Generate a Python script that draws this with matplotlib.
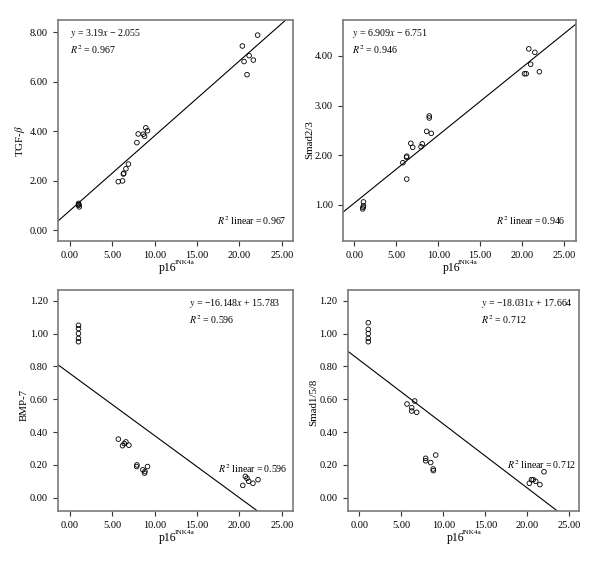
import matplotlib
matplotlib.use("Agg")
import matplotlib.pyplot as plt
import numpy as np

plt.rcParams['font.family'] = ['Liberation Serif', 'DejaVu Serif']
plt.rcParams['mathtext.fontset'] = 'stix'

# ---------------- data ----------------
tgf_x = [1.0, 1.05, 1.0, 1.1, 5.7, 6.2, 6.3, 6.35, 6.6, 6.9,
         7.9, 8.05, 8.65, 8.8, 8.95, 9.15, 20.35, 20.55, 20.9, 21.15, 21.65, 22.15]
tgf_y = [1.08, 1.04, 1.0, 0.94, 1.96, 1.99, 2.27, 2.30, 2.48, 2.67,
         3.54, 3.89, 3.88, 3.80, 4.14, 4.02, 7.45, 6.82, 6.29, 7.06, 6.88, 7.89]

smad23_x = [1.1, 1.1, 1.05, 1.0, 5.79, 6.22, 6.25, 6.25, 6.73, 6.96,
            7.95, 8.1, 8.62, 8.93, 8.93, 9.17, 20.27, 20.47, 20.78, 21.0, 21.5, 22.04]
smad23_y = [1.06, 0.98, 0.95, 0.92, 1.85, 1.96, 1.98, 1.52, 2.24, 2.16,
            2.17, 2.23, 2.48, 2.79, 2.75, 2.44, 3.64, 3.64, 4.14, 3.83, 4.07, 3.68]

bmp7_x = [1.0, 1.0, 1.0, 1.0, 1.0, 5.71, 6.2, 6.4, 6.6, 6.95,
          7.87, 7.9, 8.6, 8.8, 8.85, 9.15, 20.4, 20.7, 20.9, 21.1, 21.6, 22.2]
bmp7_y = [1.05, 1.03, 1.0, 0.97, 0.95, 0.357, 0.317, 0.33, 0.34, 0.32,
          0.19, 0.20, 0.17, 0.15, 0.16, 0.19, 0.075, 0.13, 0.118, 0.10, 0.088, 0.11]

smad158_x = [1.07, 1.07, 1.07, 1.07, 1.07, 5.68, 6.24, 6.24, 6.59, 6.83,
             7.9, 7.9, 8.5, 8.8, 8.82, 9.09, 20.24, 20.5, 20.7, 21.0, 21.5, 21.99]
smad158_y = [1.066, 1.025, 1.0, 0.97, 0.95, 0.571, 0.548, 0.528, 0.589, 0.52,
             0.24, 0.225, 0.214, 0.175, 0.165, 0.26, 0.088, 0.11, 0.11, 0.10, 0.08, 0.158]

# fitted lines as drawn (slope, intercept)
fit_slope = [0.3025, 0.1365, -0.0378, -0.039]
fit_intercept = [0.795, 1.037, 0.756, 0.839]

ylabels = ["TGF-$\\beta$", "Smad2/3", "BMP-7", "Smad1/5/8"]
equations = ["$y$ = 3.19$x$ \u2212 2.055", "$y$ = 6.909$x$ \u2212 6.751",
             "$y$ = \u221216.148$x$ + 15.783", "$y$ = \u221218.031$x$ + 17.664"]
r2_values = ["0.967", "0.946", "0.596", "0.712"]
xticks = [0, 5, 10, 15, 20, 25]
yticks_list = [[0, 2, 4, 6, 8], [1, 2, 3, 4],
               [0, 0.2, 0.4, 0.6, 0.8, 1.0, 1.2], [0, 0.2, 0.4, 0.6, 0.8, 1.0, 1.2]]

# ---------------- layout ----------------
positions = [[0.0972, 0.5747, 0.3917, 0.3899],
             [0.5722, 0.5747, 0.3878, 0.3899],
             [0.0972, 0.0977, 0.3917, 0.3905],
             [0.5795, 0.0977, 0.3860, 0.3905]]
xlims = [(-1.38, 26.37), (-1.3, 26.4), (-1.38, 26.37), (-1.38, 26.19)]
ylims = [(-0.43, 8.5), (0.28, 4.72), (-0.079, 1.267), (-0.079, 1.267)]
eq_pos = [(0.05, 0.941, 0.864), (0.039, 0.941, 0.864), (0.557, 0.938, 0.863), (0.574, 0.938, 0.863)]
lin_pos = [(0.973, 0.09), (0.956, 0.09), (0.974, 0.192), (0.989, 0.21)]
ylab_pos = [(-0.133, 0.45), (-0.125, 0.46), (-0.128, 0.478), (-0.128, 0.49)]

xs = [tgf_x, smad23_x, bmp7_x, smad158_x]
ys = [tgf_y, smad23_y, bmp7_y, smad158_y]

fig = plt.figure(figsize=(6.0, 5.66), dpi=100)
for i in range(4):
    ax = fig.add_axes(positions[i])
    ax.set_xlim(*xlims[i])
    ax.set_ylim(*ylims[i])
    ax.scatter(xs[i], ys[i], s=11, facecolors='none', edgecolors='black',
               linewidths=0.6, zorder=3)
    xl = np.array(xlims[i])
    ax.plot(xl, fit_slope[i] * xl + fit_intercept[i], color='black', lw=0.8, zorder=2)
    ax.set_xticks(xticks)
    ax.set_xticklabels(["%.2f" % v for v in xticks])
    ax.set_yticks(yticks_list[i])
    ax.set_yticklabels(["%.2f" % v for v in yticks_list[i]])
    ax.tick_params(direction='out', length=3.5, width=0.8, labelsize=7.5, pad=4,
                   colors='#333333', labelcolor='black')
    for sp in ax.spines.values():
        sp.set_color('#7a7a7a')
        sp.set_linewidth(1.2)
    # x label: "p16" with small superscript
    ax.annotate("p16", xy=(0.5, -0.095), xycoords='axes fraction',
                xytext=(-17, 0), textcoords='offset pixels',
                ha='left', va='top', fontsize=8.5)
    ax.annotate("INK4a", xy=(0.5, -0.095), xycoords='axes fraction',
                xytext=(-1.5, 2), textcoords='offset pixels',
                ha='left', va='top', fontsize=5.2)
    ax.set_ylabel(ylabels[i], fontsize=7.8)
    ax.yaxis.set_label_coords(*ylab_pos[i])
    ex, ey1, ey2 = eq_pos[i]
    ax.text(ex, ey1, equations[i], transform=ax.transAxes, fontsize=7.1,
            va='center', ha='left')
    ax.text(ex, ey2, "$R^2$ = " + r2_values[i], transform=ax.transAxes,
            fontsize=7.1, va='center', ha='left')
    lx, ly = lin_pos[i]
    ax.text(lx, ly, "$R^2$ linear\u2009=\u2009" + r2_values[i], transform=ax.transAxes,
            fontsize=7.1, va='center', ha='right')

fig.savefig("out.png", dpi=100)
